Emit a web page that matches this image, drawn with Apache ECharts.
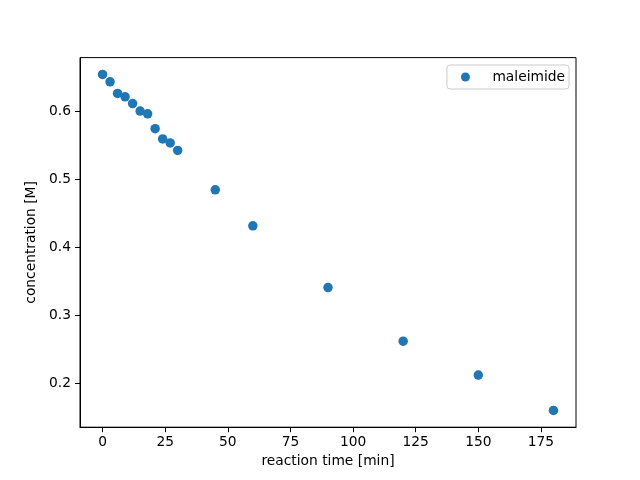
<!DOCTYPE html>
<html>
<head>
<meta charset="utf-8">
<script src="https://cdn.jsdelivr.net/npm/echarts@6/dist/echarts.min.js"></script>
<style>html,body{margin:0;padding:0;background:#fff;}#c{width:640px;height:480px;}</style>
</head>
<body>
<div id="c"></div>
<script>
const seriesName = 'maleimide';
const timeMin = [0, 3, 6, 9, 12, 15, 18, 21, 24, 27, 30, 45, 60, 90, 120, 150, 180];
const concentration = [0.655, 0.644, 0.627, 0.622, 0.612, 0.601, 0.597, 0.575, 0.560, 0.554, 0.543, 0.485, 0.432, 0.341, 0.262, 0.212, 0.160];
const xTicks = [0, 25, 50, 75, 100, 125, 150, 175];
const yTicks = [0.2, 0.3, 0.4, 0.5, 0.6];
const xLabel = 'reaction time [min]';
const yLabel = 'concentration [M]';

const font = 'DejaVu Sans';
const fs = 13.8;
const xMinD = Math.min(...timeMin), xMaxD = Math.max(...timeMin);
const yMinD = Math.min(...concentration), yMaxD = Math.max(...concentration);
const xPad = (xMaxD - xMinD) * 0.05, yPad = (yMaxD - yMinD) * 0.05;

const chart = echarts.init(document.getElementById('c'), null, {renderer: 'canvas'});
chart.setOption({
  animation: false,
  backgroundColor: '#fff',
  grid: {left: 80, right: 64, top: 57.6, bottom: 52.8, show: true, borderColor: '#000', borderWidth: 1, backgroundColor: 'transparent'},
  legend: {
    right: 71, top: 65,
    data: [{name: seriesName, icon: 'circle'}],
    itemWidth: 26, itemHeight: 9,
    padding: [5, 4, 5, 14],
    borderColor: '#cccccc', borderWidth: 1, borderRadius: 3,
    textStyle: {fontFamily: font, fontSize: fs, color: '#000', padding: [0, 0, 0, 9]}
  },
  xAxis: {
    type: 'value', min: xMinD - xPad, max: xMaxD + xPad,
    name: xLabel, nameLocation: 'middle', nameGap: 27,
    nameTextStyle: {fontFamily: font, fontSize: fs, color: '#000'},
    axisLine: {show: true, onZero: false, lineStyle: {color: '#000', width: 1}},
    axisTick: {show: true, length: 5, lineStyle: {color: '#000'}, customValues: xTicks},
    axisLabel: {margin: 8, fontFamily: font, fontSize: fs, color: '#000', customValues: xTicks, formatter: v => String(v)},
    splitLine: {show: false}
  },
  yAxis: {
    type: 'value', min: yMinD - yPad, max: yMaxD + yPad,
    name: yLabel, nameLocation: 'middle', nameGap: 37,
    nameTextStyle: {fontFamily: font, fontSize: fs, color: '#000'},
    axisLine: {show: true, onZero: false, lineStyle: {color: '#000', width: 1}},
    axisTick: {show: true, length: 5, lineStyle: {color: '#000'}, customValues: yTicks},
    axisLabel: {margin: 9, fontFamily: font, fontSize: fs, color: '#000', customValues: yTicks, formatter: v => v.toFixed(1)},
    splitLine: {show: false}
  },
  series: [{
    name: seriesName, type: 'scatter', symbol: 'circle', symbolSize: 9.5,
    itemStyle: {color: '#1f77b4', opacity: 1},
    data: timeMin.map((t, i) => [t, concentration[i]])
  }]
});
</script>
</body>
</html>
